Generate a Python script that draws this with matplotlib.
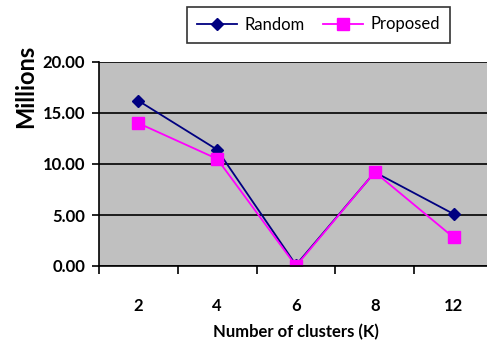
import numpy as np
import matplotlib
matplotlib.use("Agg")
import matplotlib.pyplot as plt
from matplotlib.ticker import FixedLocator

clusters = ["2", "4", "6", "8", "12"]
random_vals = [16.2, 11.4, 0.1, 9.2, 5.1]
proposed_vals = [14.0, 10.5, 0.0, 9.2, 2.8]

plt.rcParams['font.family'] = ['Lato', 'DejaVu Sans']

fig = plt.figure(figsize=(4.87, 3.46), dpi=100)
ax = fig.add_axes([99/487, 1-266/346, 394/487, 204/346])
ax.set_facecolor("#C0C0C0")

x = np.arange(len(clusters))
ax.plot(x, random_vals, color="#000080", marker="D", markersize=6.5, lw=1.3, label="Random")
ax.plot(x, proposed_vals, color="#FF00FF", marker="s", markersize=8, lw=1.3, label="Proposed")

ax.set_xlim(-0.5, len(clusters)-0.5)
ax.set_ylim(0, 20)
ax.set_yticks([0, 5, 10, 15, 20])
ax.set_yticklabels(["%.2f" % v for v in [0, 5, 10, 15, 20]], fontsize=12, fontweight="bold")
ax.yaxis.grid(True, color="black", lw=1.2)
ax.set_axisbelow(True)

ax.set_xticks(x)
ax.set_xticklabels(clusters, fontsize=12, fontweight="bold")
ax.xaxis.set_minor_locator(FixedLocator(np.arange(-0.5, len(clusters), 1.0)))
ax.tick_params(axis="x", which="major", length=0, pad=23)
ax.tick_params(axis="x", which="minor", length=6, width=1.2, direction="out")
ax.tick_params(axis="y", length=5, width=1.2, pad=5)

for s in ["top", "right"]:
    ax.spines[s].set_visible(False)
ax.spines["left"].set_linewidth(1.2)
ax.spines["bottom"].set_linewidth(1.2)

ax.set_xlabel("Number of clusters (K)", fontsize=12, fontweight="bold", labelpad=7)
fig.text(26/487, 1-86/346, "Millions", rotation=90, fontsize=17, fontweight="bold",
         ha="center", va="center")

leg = ax.legend(loc="center", bbox_to_anchor=(189/487, 1-44/346, 259/487, 39/346),
                bbox_transform=fig.transFigure, ncol=2, fontsize=12, frameon=True,
                fancybox=False, edgecolor="black", handlelength=2.4, handletextpad=0.4,
                columnspacing=1.15, borderaxespad=0, borderpad=0.6)
leg.get_frame().set_linewidth(1.2)

fig.savefig("out.png", dpi=100)
